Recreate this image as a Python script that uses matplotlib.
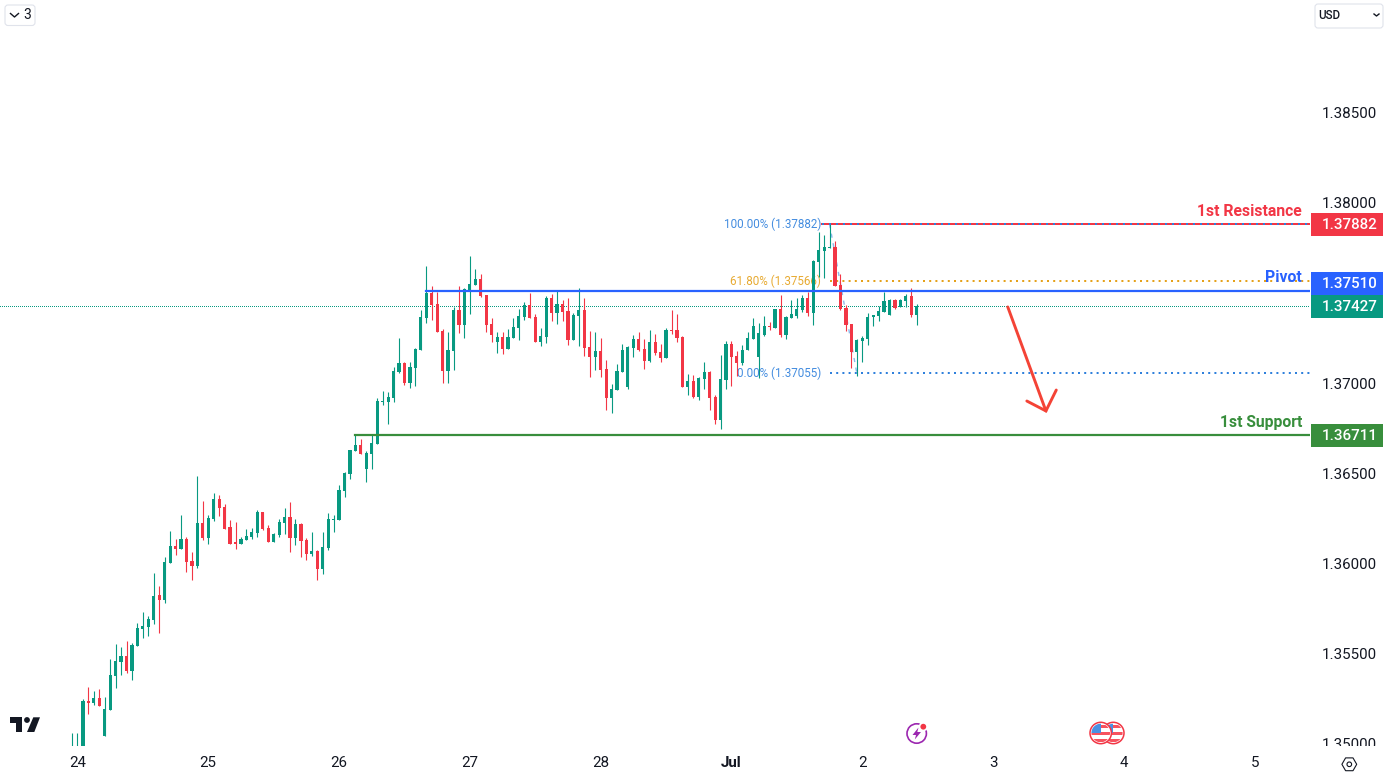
import numpy as np
import matplotlib
matplotlib.use("Agg")
import matplotlib.pyplot as plt
from matplotlib.patches import Rectangle, Circle, Polygon, FancyBboxPatch
from matplotlib.transforms import blended_transform_factory

plt.rcParams["font.family"] = ["Roboto", "DejaVu Sans"]

# hourly candles, prices in points (1e-5)
opens = [
    134950,134900,134950,135235,135224,135252,135041,135185,135374,135452,
    135485,135402,135540,135635,135646,135685,135824,135796,136001,136095,
    136079,136134,136012,135984,136223,136140,136245,136356,136312,136201,
    136118,136107,136129,136145,136168,136284,136196,136118,136157,136223,
    136256,136140,136218,136129,136051,136068,135968,136084,136240,136240,
    136401,136495,136623,136656,136523,136606,136661,136895,136895,136917,
    137061,137111,137000,137083,137183,137361,137499,137438,137289,137066,
    137178,137405,137322,137510,137544,137577,137488,137327,137227,137255,
    137189,137250,137305,137366,137433,137366,137227,137255,137472,137388,
    137438,137400,137239,137372,137405,137200,137144,137178,137078,136917,
    136961,137061,136978,137194,137244,137189,137122,137227,137172,137139,
    137294,137294,137255,136978,137011,136922,137022,137061,136922,136794,
    137016,137216,137150,137111,137183,137244,137144,137266,137316,137305,
    137411,137266,137361,137372,137405,137472,137388,137671,137732,137749,
    137755,137544,137416,137327,137172,137233,137244,137366,137372,137394,
    137377,137460,137422,137455,137483,137377,
]
highs = [
    135058,135058,135246,135313,135291,135302,135257,135468,135552,135535,
    135568,135557,135668,135729,135707,135946,135873,136034,136179,136134,
    136267,136145,136062,136484,136345,136267,136390,136378,136329,136240,
    136229,136145,136190,136196,136295,136284,136212,136168,136245,136306,
    136340,136245,136223,136140,136173,136073,136173,136279,136267,136434,
    136506,136628,136717,136689,136623,136711,136917,136956,136950,137089,
    137250,137117,137117,137194,137405,137649,137538,137505,137300,137283,
    137422,137538,137527,137705,137632,137605,137488,137361,137283,137283,
    137300,137361,137411,137449,137499,137383,137305,137483,137494,137510,
    137461,137472,137388,137527,137472,137289,137283,137250,137128,136994,
    137105,137216,137205,137266,137283,137244,137294,137272,137216,137305,
    137405,137383,137261,137050,137044,137033,137116,137066,136933,137155,
    137233,137233,137177,137211,137283,137361,137333,137372,137338,137411,
    137488,137372,137460,137472,137488,137505,137682,137838,137821,137882,
    137788,137605,137433,137327,137244,137261,137388,137377,137427,137505,
    137466,137466,137466,137494,137527,137438,
]
lows = [
    134900,134880,134900,135163,135213,135207,135041,135185,135307,135379,
    135391,135352,135540,135585,135596,135663,135612,135779,136001,136045,
    136079,135951,135907,135973,136129,136107,136234,136262,136190,136107,
    136079,136107,136129,136134,136145,136184,136118,136118,136145,136162,
    136062,136101,136034,136018,136040,135907,135940,136073,136173,136240,
    136368,136467,136623,136606,136451,136523,136661,136878,136772,136895,
    137056,136989,136972,136983,137183,137333,137350,137283,137000,137000,
    137072,137278,137250,137383,137544,137477,137283,137227,137166,137161,
    137189,137250,137239,137350,137361,137227,137205,137222,137344,137327,
    137344,137211,137239,137205,137150,137033,137072,137033,136850,136834,
    136961,137061,136967,137144,137177,137078,137116,137155,137116,137139,
    137272,137227,136978,136933,136917,136905,136967,136850,136772,136745,
    136967,136983,137040,137100,137183,137244,137028,137261,137294,137305,
    137255,137244,137361,137361,137394,137372,137322,137588,137583,137749,
    137538,137405,137288,137083,137039,137116,137211,137316,137344,137394,
    137377,137411,137422,137422,137366,137322,
]
closes = [
    134970,134960,135235,135224,135252,135207,135191,135379,135457,135485,
    135402,135546,135640,135651,135690,135818,135796,136007,136095,136079,
    136134,136007,135984,136223,136140,136251,136356,136306,136190,136107,
    136107,136134,136151,136173,136284,136190,136118,136162,136229,136256,
    136140,136218,136123,136051,136068,135968,136090,136245,136245,136406,
    136501,136628,136656,136606,136612,136667,136900,136900,136922,137066,
    137111,137000,137089,137189,137366,137499,137433,137283,137066,137183,
    137405,137322,137522,137549,137577,137483,137322,137266,137255,137189,
    137255,137311,137372,137433,137361,137227,137261,137472,137388,137438,
    137394,137239,137377,137405,137194,137144,137178,137072,136917,136967,
    137066,137183,137200,137244,137183,137122,137227,137166,137139,137294,
    137288,137250,136978,137011,136922,137028,137061,136917,136794,137022,
    137216,137144,137111,137183,137250,137316,137277,137316,137311,137411,
    137266,137366,137383,137411,137472,137388,137677,137738,137755,137755,
    137538,137411,137322,137172,137238,137250,137366,137377,137399,137455,
    137460,137416,137460,137483,137377,137427,
]

price_ticks = [1.385, 1.380, 1.370, 1.365, 1.360, 1.355, 1.350]  # 1.375 is hidden by the tags
day_labels = ["24", "25", "26", "27", "28", "Jul", "2", "3", "4", "5"]
first_day_bar = 1
bars_per_day = 24

resistance = 1.37882
pivot = 1.37510
last_price = 1.37427
support = 1.36711
fib_high = 1.37882
fib_618 = 1.37566
fib_low = 1.37055

# bar index where each drawing starts
resistance_start = 137.6
pivot_start = 65
support_start = 52
fib_start = 139
fib_trend_x = [139, 144]
fib_trend_y = [fib_high, fib_low]

arrow_x = [171.7, 178.7]
arrow_y = [1.37422, 1.36845]
head_x = [175.2, 178.7, 180.6]
head_y = [1.36900, 1.36845, 1.36961]

GREEN = "#089981"
RED = "#F23645"
BLUE = "#2962FF"
FIB_BLUE = "#2F80DC"
ORANGE = "#E5A11B"
DK_GREEN = "#388E3C"
TEXT = "#131722"

W, H = 1385, 778
PLOT_W, PLOT_H = 1310, 746
BAR_PX = 5.45
PX_PER_PRICE = 18020.0


def px_to_bar(px):
    return (px - 72) / BAR_PX


def py_to_price(py):
    return 1.37 + (383 - py) / PX_PER_PRICE


fig = plt.figure(figsize=(W / 100, H / 100), dpi=100, facecolor="white")
ax = fig.add_axes([0, 1 - PLOT_H / H, PLOT_W / W, PLOT_H / H])
ax.set_xlim(px_to_bar(0), px_to_bar(PLOT_W))
ax.set_ylim(py_to_price(PLOT_H), py_to_price(0))
for s in ax.spines.values():
    s.set_visible(False)
ax.xaxis.set_visible(False)
ax.yaxis.tick_right()
ax.set_yticks(price_ticks)
ax.set_yticklabels([f"{p:.5f}" for p in price_ticks])
ax.tick_params(axis="y", length=0, pad=8.6, labelsize=10.9, labelcolor=TEXT)

# candles
o = np.array(opens) / 1e5
h = np.array(highs) / 1e5
l = np.array(lows) / 1e5
c = np.array(closes) / 1e5
x = np.arange(len(o))
colors = [GREEN if cc >= oo else RED for oo, cc in zip(o, c)]
ax.vlines(x, l, h, colors=colors, linewidth=0.8, zorder=3)
ax.bar(x, np.abs(c - o), bottom=np.minimum(o, c), width=3.2 / BAR_PX, color=colors, linewidth=0, zorder=3.1)

# level lines
xr = px_to_bar(PLOT_W)
ax.plot([resistance_start, xr], [resistance, resistance], color=RED, lw=1.44, zorder=4)
ax.plot([resistance_start, xr], [fib_high, fib_high], color=FIB_BLUE, lw=1.44, ls=(0, (1, 2.5)), zorder=4.1)
ax.plot([pivot_start, xr], [pivot, pivot], color=BLUE, lw=1.6, zorder=4)
ax.plot([support_start, xr], [support, support], color=DK_GREEN, lw=1.6, zorder=4)
ax.plot([fib_start, xr], [fib_618, fib_618], color=ORANGE, lw=1.44, ls=(0, (1, 2.1)), zorder=2)
ax.plot([fib_start, xr], [fib_low, fib_low], color=FIB_BLUE, lw=1.44, ls=(0, (1, 2.1)), zorder=2)
ax.plot(fib_trend_x, fib_trend_y, color=FIB_BLUE, lw=1.0, ls=(0, (3, 4)), alpha=0.55, zorder=2)
ax.plot([px_to_bar(0), xr], [last_price, last_price], color=GREEN, lw=0.72, ls=(0, (1, 2)),
        antialiased=False, zorder=2)

# fib labels sit under the candles
fib_x = px_to_bar(821)
ax.text(fib_x, fib_high, "100.00% (1.37882)", color=FIB_BLUE, fontsize=8.4, ha="right", va="center", alpha=0.9, zorder=1)
ax.text(fib_x, fib_618, "61.80% (1.37566)", color=ORANGE, fontsize=8.4, ha="right", va="center", alpha=0.9, zorder=1)
ax.text(fib_x, fib_low, "0.00% (1.37055)", color=FIB_BLUE, fontsize=8.4, ha="right", va="center", alpha=0.9, zorder=1)

# arrow
ax.plot(arrow_x, arrow_y, color="#F44336", lw=2.1, solid_capstyle="round", zorder=5)
ax.plot(head_x, head_y, color="#F44336", lw=2.1, solid_capstyle="round", solid_joinstyle="miter", zorder=5)

# level names
name_x = px_to_bar(1302)
name_kw = dict(fontsize=11.3, fontweight="semibold", ha="right", va="center", zorder=5)
ax.text(name_x, py_to_price(211), "1st Resistance", color=RED, **name_kw)
ax.text(name_x, py_to_price(278), "Pivot", color=BLUE, **name_kw)
ax.text(name_x, py_to_price(422), "1st Support", color=DK_GREEN, **name_kw)

# price tags on the scale; pivot tag is pushed up above the last price tag
tag_h = 23 / PX_PER_PRICE
tr = blended_transform_factory(ax.transAxes, ax.transData)
tags = [
    (resistance, "1.37882", RED),
    (last_price + tag_h, "1.37510", BLUE),
    (last_price, "1.37427", GREEN),
    (support, "1.36711", DK_GREEN),
]
for pos, label, col in tags:
    ax.add_patch(Rectangle((1311 / PLOT_W, pos - tag_h / 2), 72 / PLOT_W, tag_h, transform=tr,
                           color=col, lw=0, clip_on=False, zorder=6))
    ax.text(1349.5 / PLOT_W, pos - 1 / PX_PER_PRICE, label, transform=tr, color="white", fontsize=10.9,
            fontweight="medium", ha="center", va="center", clip_on=False, zorder=7)

# time scale, drawn over the bottom of the price scale
ax_t = fig.add_axes([0, 0, 1, 1 - PLOT_H / H], zorder=5, facecolor="white")
ax_t.set_xlim(px_to_bar(0), px_to_bar(W))
ax_t.set_ylim(0, 1)
ax_t.yaxis.set_visible(False)
for s in ax_t.spines.values():
    s.set_visible(False)
ax_t.spines["bottom"].set_position(("axes", 1.0))
ax_t.set_xticks([first_day_bar + bars_per_day * k for k in range(len(day_labels))])
ax_t.set_xticklabels(day_labels)
ax_t.tick_params(axis="x", length=0, pad=7.5, labelsize=10.9, labelcolor=TEXT)
ax_t.get_xticklabels()[5].set_fontweight("bold")

# chrome: buttons, logo and icons in pixel coordinates
ui = fig.add_axes([0, 0, 1, 1], zorder=10, facecolor="none")
ui.set_xlim(0, W)
ui.set_ylim(H, 0)
ui.axis("off")

ui.add_patch(FancyBboxPatch((6, 6), 28, 18.5, boxstyle="round,pad=1,rounding_size=3", fc="white", ec="#E0E3EB", lw=0.8))
ui.plot([10.5, 14.5, 18.5], [13.5, 17, 13.5], color=TEXT, lw=1.0)
ui.text(27, 15, "3", color=TEXT, fontsize=10, ha="center", va="center")

ui.add_patch(FancyBboxPatch((1316, 5), 66, 22, boxstyle="round,pad=1,rounding_size=3", fc="white", ec="#E0E3EB", lw=0.8))
ui.text(1318.5, 15, "USD", color=TEXT, fontsize=8.4, fontweight="medium", ha="left", va="center")
ui.plot([1374, 1376.5, 1379], [14, 16, 14], color=TEXT, lw=1.0)

# logo
ui.add_patch(Polygon([(10, 717.3), (22.3, 717.3), (22.3, 732), (16, 732), (16, 723.3), (10, 723.3)], fc="#131722", lw=0))
ui.add_patch(Circle((27, 720), 2.9, fc="#131722", lw=0))
ui.add_patch(Polygon([(33.3, 717.3), (40, 717.3), (34.3, 732), (27, 732)], fc="#131722", lw=0))

# lightning icon
ui.add_patch(Circle((916.7, 733.5), 9.7, fc="white", ec="#9C27B0", lw=1.2))
ui.add_patch(Polygon([(918.5, 727.5), (912.5, 735), (916, 735), (914.8, 739.5), (921, 732), (917.3, 732)], fc="#9C27B0", lw=0))
ui.add_patch(Circle((923.3, 726.7), 4.6, fc="white", lw=0))
ui.add_patch(Circle((923.3, 726.7), 2.9, fc="#F23645", lw=0))


def flag(cx, cy, r=10):
    disc = Circle((cx, cy), r, fc="white", ec="none")
    ui.add_patch(disc)
    parts = [Rectangle((cx - r, cy - r), 2 * r, 2 * r, fc="white", lw=0)]
    for k in (0, 2, 4):
        parts.append(Rectangle((cx - r, cy - r + 2 + k * 3.4), 2 * r, 3.4, fc="#F7525F", lw=0))
    parts.append(Rectangle((cx - r, cy - r), r, r, fc="#4A90E2", lw=0))
    for p in parts:
        ui.add_patch(p)
        p.set_clip_path(disc)
    ui.add_patch(Circle((cx, cy), r, fc="none", ec="white", lw=1.0))
    ui.add_patch(Circle((cx, cy), r + 0.7, fc="none", ec="#F23645", lw=1.1))


flag(1113.3, 733)
flag(1100.7, 733)

# settings icon
ang = np.deg2rad(np.arange(0, 360, 60))
ui.add_patch(Polygon(np.c_[1349.3 + 7.4 * np.cos(ang), 764.3 + 7.4 * np.sin(ang)], fc="none", ec=TEXT, lw=0.8))
ui.add_patch(Circle((1349.3, 764.3), 2.3, fc="none", ec=TEXT, lw=0.8))

fig.savefig("out.png", dpi=100)
